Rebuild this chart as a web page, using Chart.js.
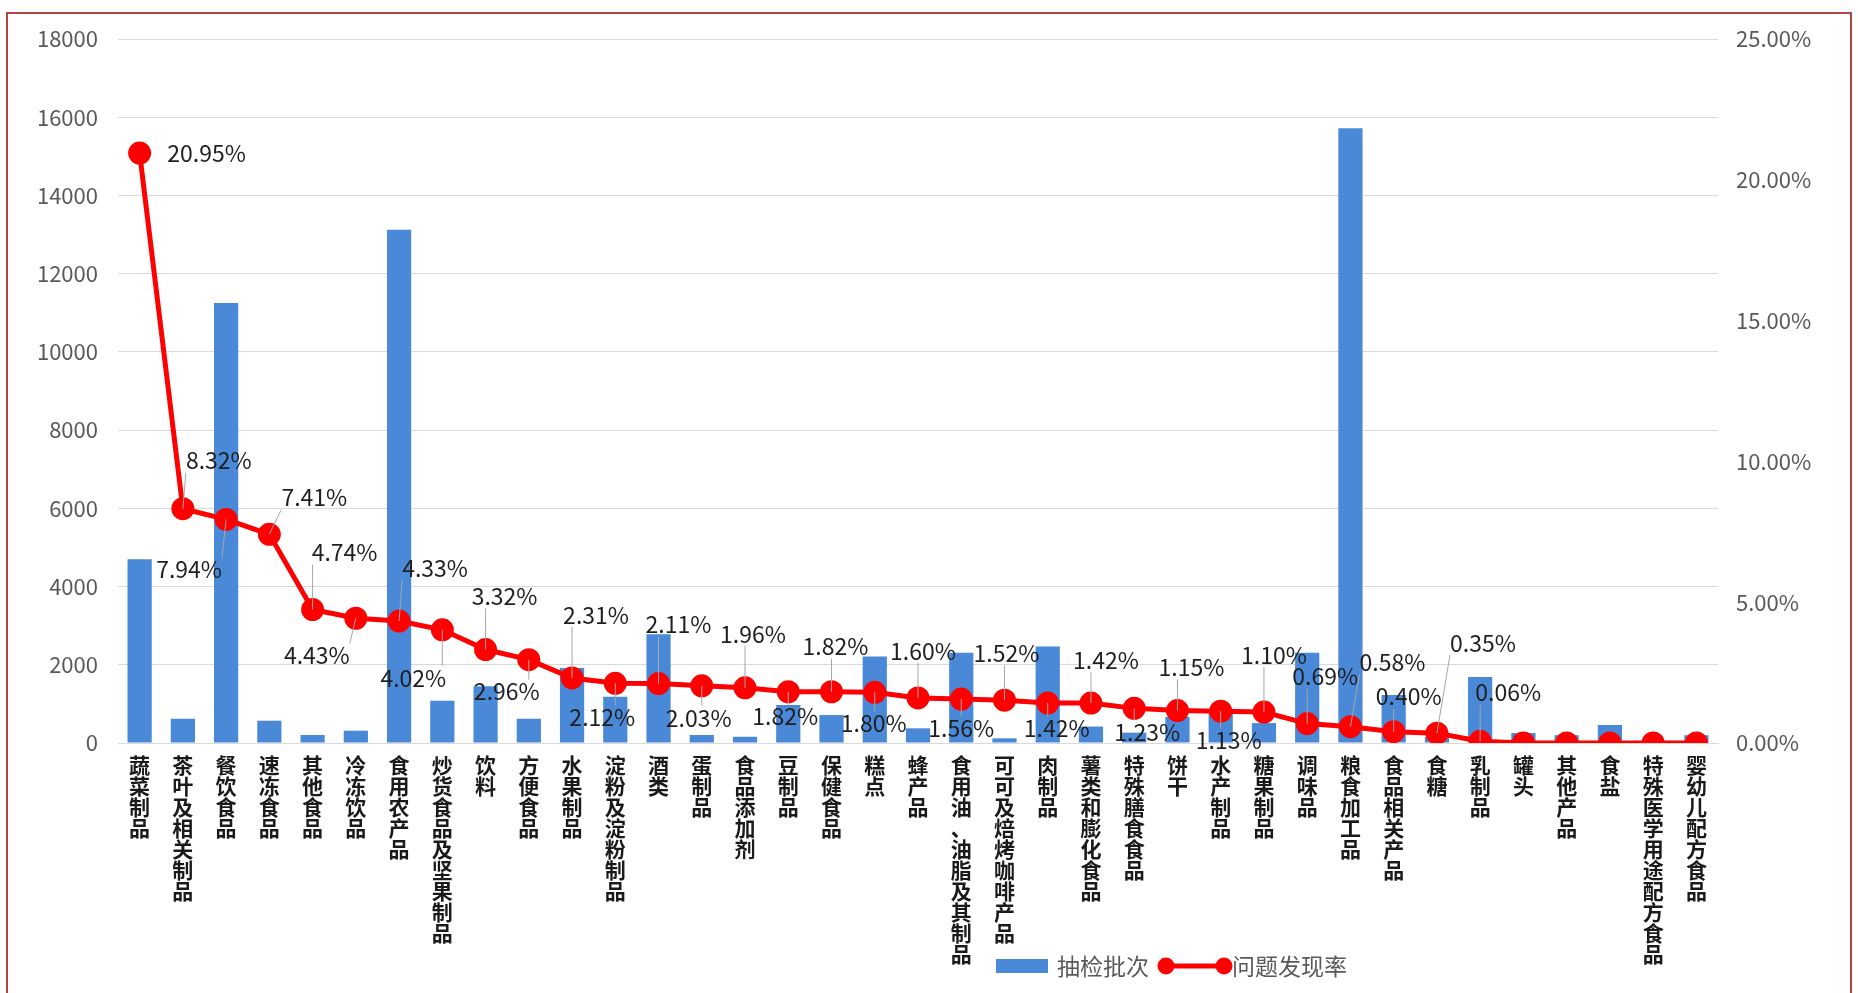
<!DOCTYPE html>
<html>
<head>
<meta charset="utf-8">
<script src="https://cdn.jsdelivr.net/npm/chart.js@4"></script>
<style>
  html, body { margin: 0; padding: 0; background: #fff; }
  #wrap { position: relative; width: 1858px; height: 993px; overflow: hidden; }
  #frame { position: absolute; left: 6px; top: 12px; width: 1846px; height: 1000px; border: 2px solid #b04545; box-sizing: border-box; pointer-events: none; }
  canvas { position: absolute; left: 0; top: 0; }
</style>
</head>
<body>
<div id="wrap">
  <canvas id="chart" width="1858" height="993"></canvas>
  <div id="frame"></div>
</div>
<script>
const categories = [
  '蔬菜制品', '茶叶及相关制品', '餐饮食品', '速冻食品', '其他食品', '冷冻饮品', '食用农产品',
  '炒货食品及坚果制品', '饮料', '方便食品', '水果制品', '淀粉及淀粉制品', '酒类', '蛋制品',
  '食品添加剂', '豆制品', '保健食品', '糕点', '蜂产品', '食用油、油脂及其制品', '可可及焙烤咖啡产品',
  '肉制品', '薯类和膨化食品', '特殊膳食食品', '饼干', '水产制品', '糖果制品', '调味品', '粮食加工品',
  '食品相关产品', '食糖', '乳制品', '罐头', '其他产品', '食盐', '特殊医学用途配方食品', '婴幼儿配方食品'
];

// 抽检批次
const batches = [
  4700, 620, 11250, 570, 205, 315, 13120,
  1080, 1450, 620, 1920, 1180, 2780, 205,
  160, 970, 715, 2210, 375, 2310, 120,
  2465, 420, 265, 670, 800, 510, 2310, 15720,
  1230, 150, 1690, 255, 200, 460, 40, 200
];

// 问题发现率 (%)
const rates = [
  20.95, 8.32, 7.94, 7.41, 4.74, 4.43, 4.33,
  4.02, 3.32, 2.96, 2.31, 2.12, 2.11, 2.03,
  1.96, 1.82, 1.82, 1.80, 1.60, 1.56, 1.52,
  1.42, 1.42, 1.23, 1.15, 1.13, 1.10, 0.69, 0.58,
  0.40, 0.35, 0.06, 0, 0, 0, 0, 0
];

const leftTicks = { min: 0, max: 18000, step: 2000 };
const rightTicks = { min: 0, max: 25, step: 5 };

// label offsets from each point (px), as placed in the original chart
const labelDx = [67, 36, -37, 45, 32, -39, 36, -29, 19, -22, 24, -13, 20, -3, 8, -3, 4, -1, 5, 0, 2, 9, 15, 13, 14, 8, 10, 18, 42, 15, 46, 28];
const labelDy = [0, -48, 50, -37, -57, 37, -53, 48, -53, 32, -63, 34, -59, 32, -54, 25, -45, 31, -47, 29, -47, 25, -43, 24, -43, 29, -57, -47, -64, -35, -90, -49];

const FONT = '"Noto Sans CJK SC", "Noto Sans", sans-serif';
const BLUE = '#4A89D8';
const RED = '#FF0000';

const rateLabels = {
  id: 'rateLabels',
  afterDatasetsDraw(chart) {
    const meta = chart.getDatasetMeta(1);
    const ctx = chart.ctx;
    ctx.save();
    ctx.font = '23px ' + FONT;
    ctx.textAlign = 'center';
    ctx.textBaseline = 'middle';
    meta.data.forEach((pt, i) => {
      if (i >= labelDx.length) return;
      const txt = rates[i].toFixed(2) + '%';
      const cx = pt.x + labelDx[i];
      const cy = pt.y + labelDy[i];
      const w = ctx.measureText(txt).width;
      const h = 20;
      if (Math.abs(labelDy[i]) > 15) {
        const tx = Math.min(Math.max(pt.x, cx - w / 2), cx + w / 2);
        const ty = labelDy[i] < 0 ? cy + h / 2 + 2 : cy - h / 2 - 2;
        ctx.strokeStyle = '#a6a6a6';
        ctx.lineWidth = 1;
        ctx.beginPath();
        ctx.moveTo(pt.x, pt.y);
        ctx.lineTo(tx, ty);
        ctx.stroke();
      }
      ctx.fillStyle = '#1f1f1f';
      ctx.fillText(txt, cx, cy);
    });
    ctx.restore();
  }
};

const customLegend = {
  id: 'customLegend',
  afterDraw(chart) {
    const ctx = chart.ctx;
    const ds = chart.data.datasets;
    const y = 966;
    let x = 996;
    ctx.save();
    ctx.font = '23px ' + FONT;
    ctx.textBaseline = 'middle';
    ctx.textAlign = 'left';
    // bar entry
    ctx.fillStyle = ds[0].backgroundColor;
    ctx.fillRect(x, y - 7, 52, 14);
    ctx.fillStyle = '#595959';
    ctx.fillText(ds[0].label, x + 61, y);
    x += 61 + ctx.measureText(ds[0].label).width + 10;
    // line entry
    ctx.strokeStyle = ds[1].borderColor;
    ctx.lineWidth = 5;
    ctx.beginPath();
    ctx.moveTo(x + 6, y);
    ctx.lineTo(x + 66, y);
    ctx.stroke();
    ctx.fillStyle = ds[1].pointBackgroundColor;
    [x + 7, x + 65].forEach(px => {
      ctx.beginPath();
      ctx.arc(px, y, 8.5, 0, Math.PI * 2);
      ctx.fill();
    });
    ctx.fillStyle = '#595959';
    ctx.fillText(ds[1].label, x + 73, y);
    ctx.restore();
  }
};

new Chart(document.getElementById('chart'), {
  type: 'bar',
  data: {
    labels: categories.map(c => c.split('')),
    datasets: [
      {
        type: 'bar',
        label: '抽检批次',
        data: batches,
        backgroundColor: BLUE,
        yAxisID: 'y',
        barPercentage: 0.56,
        categoryPercentage: 1,
        order: 2
      },
      {
        type: 'line',
        label: '问题发现率',
        data: rates,
        borderColor: RED,
        backgroundColor: RED,
        pointBackgroundColor: RED,
        pointBorderColor: RED,
        borderWidth: 5,
        pointRadius: 9,
        pointHoverRadius: 9,
        tension: 0,
        yAxisID: 'y1',
        order: 1
      }
    ]
  },
  options: {
    responsive: false,
    animation: false,
    devicePixelRatio: 1,
    layout: { padding: { top: 39, left: 0, right: 0, bottom: 0 } },
    plugins: {
      legend: { display: false },
      tooltip: { enabled: false }
    },
    scales: {
      x: {
        grid: { display: false, drawTicks: false },
        border: { display: true, color: '#d9d9d9', width: 1 },
        ticks: {
          color: '#1a1a1a',
          font: { family: FONT, size: 21, lineHeight: 1.0, weight: 'bold' },
          autoSkip: false,
          maxRotation: 0,
          minRotation: 0,
          padding: 12
        },
        afterFit(scale) { scale.height = 250; }
      },
      y: {
        position: 'left',
        min: leftTicks.min,
        max: leftTicks.max,
        ticks: {
          stepSize: leftTicks.step,
          color: '#595959',
          font: { family: FONT, size: 22 },
          padding: 20,
          callback: v => String(v)
        },
        grid: { color: '#d9d9d9', lineWidth: 1, drawTicks: false },
        border: { display: false },
        afterFit(scale) { scale.width = 118; }
      },
      y1: {
        position: 'right',
        min: rightTicks.min,
        max: rightTicks.max,
        ticks: {
          stepSize: rightTicks.step,
          color: '#595959',
          font: { family: FONT, size: 22 },
          padding: 18,
          callback: v => v.toFixed(2) + '%'
        },
        grid: { display: false, drawTicks: false },
        border: { display: false },
        afterFit(scale) { scale.width = 140; }
      }
    }
  },
  plugins: [rateLabels, customLegend]
});
</script>
</body>
</html>
